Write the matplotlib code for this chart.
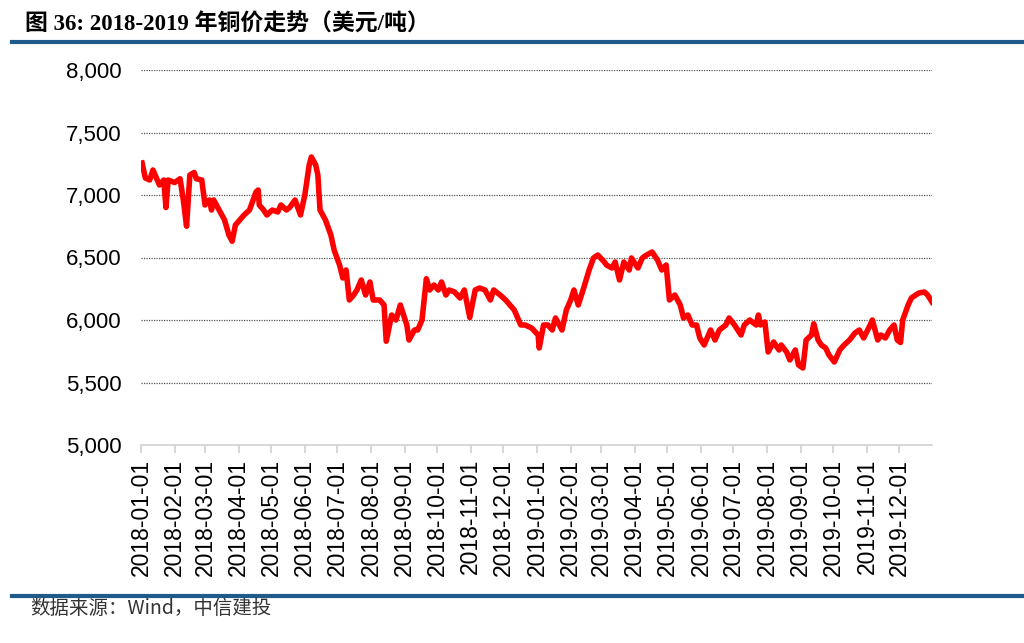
import pandas as pd
import numpy as np
import matplotlib.pyplot as plt
import matplotlib.dates as mdates
from matplotlib.ticker import FuncFormatter

plt.rcParams['font.family'] = ['Liberation Sans', 'Noto Sans CJK SC', 'DejaVu Sans']

# 铜价 (美元/吨), 近似值
dates = [
    '2018-01-02', '2018-01-05', '2018-01-09', '2018-01-12', '2018-01-18', '2018-01-22', '2018-01-24', '2018-01-26',
    '2018-02-01', '2018-02-06', '2018-02-09', '2018-02-12', '2018-02-15', '2018-02-19', '2018-02-21', '2018-02-26',
    '2018-03-01', '2018-03-05', '2018-03-07', '2018-03-09', '2018-03-14', '2018-03-19', '2018-03-23', '2018-03-26', '2018-03-29',
    '2018-04-02', '2018-04-06', '2018-04-11', '2018-04-17', '2018-04-19', '2018-04-20', '2018-04-24', '2018-04-27',
    '2018-05-02', '2018-05-07', '2018-05-10', '2018-05-15', '2018-05-18', '2018-05-23', '2018-05-28',
    '2018-06-01', '2018-06-05', '2018-06-07', '2018-06-11', '2018-06-13', '2018-06-15', '2018-06-20', '2018-06-25', '2018-06-28',
    '2018-07-03', '2018-07-06', '2018-07-09', '2018-07-12', '2018-07-16', '2018-07-19', '2018-07-23', '2018-07-27', '2018-07-31',
    '2018-08-03', '2018-08-09', '2018-08-13', '2018-08-15', '2018-08-20', '2018-08-24', '2018-08-28',
    '2018-09-03', '2018-09-05', '2018-09-10', '2018-09-13', '2018-09-17', '2018-09-21', '2018-09-24', '2018-09-28',
    '2018-10-02', '2018-10-05', '2018-10-09', '2018-10-12', '2018-10-17', '2018-10-22', '2018-10-26', '2018-10-31',
    '2018-11-05', '2018-11-09', '2018-11-14', '2018-11-19', '2018-11-22', '2018-11-28',
    '2018-12-03', '2018-12-07', '2018-12-11', '2018-12-17', '2018-12-21', '2018-12-27',
    '2019-01-02', '2019-01-03', '2019-01-07', '2019-01-11', '2019-01-15', '2019-01-18', '2019-01-24', '2019-01-28',
    '2019-02-01', '2019-02-04', '2019-02-08', '2019-02-13', '2019-02-18', '2019-02-22', '2019-02-26',
    '2019-03-04', '2019-03-06', '2019-03-11', '2019-03-14', '2019-03-18', '2019-03-22', '2019-03-27', '2019-03-29',
    '2019-04-04', '2019-04-08', '2019-04-12', '2019-04-17', '2019-04-22', '2019-04-26', '2019-04-30',
    '2019-05-03', '2019-05-08', '2019-05-13', '2019-05-16', '2019-05-20', '2019-05-24', '2019-05-28', '2019-05-31',
    '2019-06-04', '2019-06-10', '2019-06-14', '2019-06-18', '2019-06-24', '2019-06-27',
    '2019-07-02', '2019-07-08', '2019-07-11', '2019-07-16', '2019-07-22', '2019-07-24', '2019-07-26', '2019-07-30',
    '2019-08-02', '2019-08-07', '2019-08-12', '2019-08-14', '2019-08-19', '2019-08-22', '2019-08-27', '2019-08-30',
    '2019-09-03', '2019-09-06', '2019-09-11', '2019-09-13', '2019-09-17', '2019-09-20', '2019-09-24', '2019-09-27',
    '2019-10-02', '2019-10-07', '2019-10-11', '2019-10-16', '2019-10-21', '2019-10-25', '2019-10-29',
    '2019-11-04', '2019-11-06', '2019-11-11', '2019-11-14', '2019-11-18', '2019-11-22', '2019-11-26', '2019-11-29',
    '2019-12-02', '2019-12-04', '2019-12-09', '2019-12-12', '2019-12-16', '2019-12-19', '2019-12-24', '2019-12-27', '2019-12-31',
]
prices = [
    7256, 7136, 7120, 7200, 7080, 7120, 6900, 7120,
    7100, 7130, 6960, 6750, 7160, 7180, 7130, 7120,
    6920, 6960, 6880, 6960, 6880, 6800, 6680, 6630, 6760,
    6800, 6840, 6880, 7024, 7040, 6920, 6880, 6840,
    6880, 6864, 6920, 6880, 6900, 6960, 6840,
    7000, 7240, 7304, 7240, 7160, 6880, 6800, 6680, 6560,
    6440, 6336, 6400, 6160, 6200, 6240, 6320, 6200, 6304,
    6160, 6160, 6120, 5830, 6040, 6000, 6120,
    5960, 5840, 5920, 5920, 6000, 6330, 6240, 6280,
    6240, 6304, 6200, 6240, 6224, 6176, 6240, 6020,
    6240, 6256, 6240, 6160, 6240, 6200,
    6160, 6120, 6080, 5960, 5960, 5936,
    5880, 5776, 5960, 5960, 5920, 6016, 5920, 6080,
    6160, 6240, 6120, 6256, 6400, 6496, 6520,
    6464, 6440, 6416, 6464, 6320, 6464, 6400, 6496,
    6416, 6496, 6520, 6544, 6480, 6400, 6440,
    6160, 6200, 6120, 6016, 6040, 5960, 5960, 5856,
    5800, 5920, 5840, 5920, 5960, 6016,
    5960, 5880, 5960, 6000, 5960, 6040, 5960, 5984,
    5744, 5824, 5760, 5800, 5744, 5680, 5760, 5640,
    5616, 5840, 5880, 5970, 5840, 5800, 5776, 5720,
    5664, 5760, 5800, 5840, 5896, 5920, 5856,
    5960, 6000, 5840, 5880, 5856, 5920, 5960, 5840,
    5820, 6000, 6120, 6176, 6200, 6216, 6224, 6200, 6144,
]

x = pd.to_datetime(dates)

fig = plt.figure(figsize=(10.24, 6.43), dpi=100)
ax = fig.add_axes([141 / 1024, 1 - 445 / 643, (932 - 141) / 1024, (445 - 70) / 643])

ax.plot(x, prices, color='#ff0000', linewidth=4, solid_joinstyle='round', zorder=3)

ax.set_ylim(5000, 8000)
ax.set_yticks(np.arange(5000, 8001, 500))
ax.yaxis.set_major_formatter(FuncFormatter(lambda v, p: f"{int(v):,}"))
ax.set_xlim(pd.Timestamp('2018-01-01'), pd.Timestamp('2019-12-31'))
ax.xaxis.set_major_locator(mdates.MonthLocator())
ax.xaxis.set_major_formatter(mdates.DateFormatter('%Y-%m-%d'))

for v in np.arange(5500, 8001, 500):
    ax.axhline(v, color='#555555', linewidth=0.9, linestyle=(0, (1, 1)), zorder=1)

for s in ['top', 'right', 'left']:
    ax.spines[s].set_visible(False)
ax.spines['bottom'].set_color('#d0d0d0')
ax.spines['bottom'].set_linewidth(1.2)
ax.tick_params(axis='y', length=0, labelsize=16, pad=14)
ax.tick_params(axis='x', length=6, color='#d0d0d0', width=1.2, labelsize=16.5, labelrotation=90, pad=4)

# 标题和装饰线
fig.text(25 / 1024, 1 - 25 / 643, '图 36: 2018-2019 年铜价走势（美元/吨）', fontsize=16.5, fontweight='bold',
         family=['Liberation Serif', 'Noto Sans CJK SC'], va='center', ha='left')
fig.add_artist(plt.Line2D([12 / 1024, 1], [1 - 41.5 / 643] * 2, color='#1f5b8a', linewidth=3))
fig.add_artist(plt.Line2D([12 / 1024, 1], [1 - 596 / 643] * 2, color='#1f5b8a', linewidth=3))
fig.text(30 / 1024, 1 - 608 / 643, '数据来源：Wind，中信建投', fontsize=14, style='italic', color='#333333',
         family=['Noto Sans CJK SC', 'DejaVu Sans'], va='center', ha='left')

plt.savefig('out.png', dpi=100)
